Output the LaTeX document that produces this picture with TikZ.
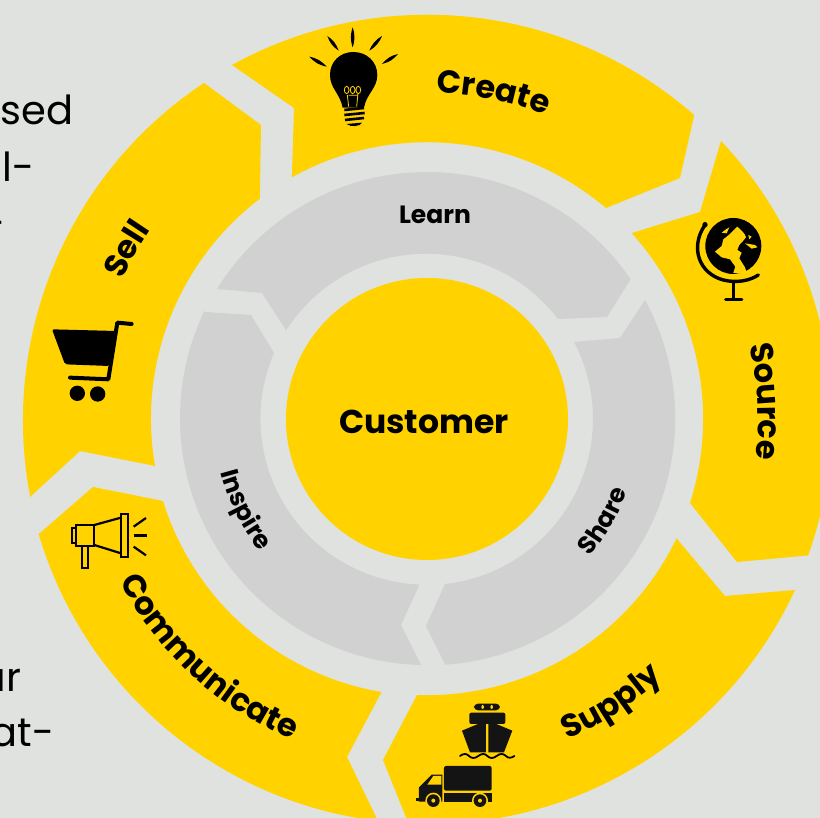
\documentclass[tikz,border=0pt]{standalone}
\usepackage{fontspec}
\setmainfont{Poppins}
\usetikzlibrary{decorations.text}
\definecolor{bgc}{HTML}{DFE2DE}
\definecolor{yel}{HTML}{FFD200}
\definecolor{gry}{HTML}{D1D1D1}
\tikzset{x=1pt,y=1pt,
 yseg/.style={fill=yel},gseg/.style={fill=gry},
 curved/.style={decorate,decoration={text along path,text align=center,text={#1}}},
 sideline/.style={anchor=base east,font=\fontsize{40}{40}\selectfont,text=black}}
\newcommand{\lens}[3][18]{\fill #2 to[bend left=#1] #3 to[bend left=#1] #2;}
\begin{document}
\begin{tikzpicture}[x=1pt,y=1pt]
\useasboundingbox (-427,-399) rectangle (393,419);
\fill[bgc] (-427,-399) rectangle (393,419);
\clip (-427,-399) rectangle (393,419);
% left clipped text
\node[sideline] (t1) at (77-427,419-125) {sed};
\node[sideline] (t2) at (38-427,419-182) {ul-};
\node[sideline] (t3) at (9-427,419-238) {-};
\node[sideline] (t4) at (25-427,419-692) {ur};
\node[sideline] (t5) at (58-427,419-747) {at-};
% yellow ring
\fill[yseg] (232-427,419-65) arc[start angle={atan2(354,-195)},end angle={atan2(306,268)},radius=405]
 -- (680-427,419-178) -- (606-427,419-208) arc[start angle={atan2(211,179)},end angle={atan2(242,-135)},radius=277] -- (294-427,419-108) -- cycle;
\fill[yseg] (721-427,419-141) arc[start angle={atan2(278,294)},end angle={atan2(-136,381)},radius=405]
 -- (737-427,419-562) -- (690-427,419-503) arc[start angle={atan2(-84,263)},end angle={atan2(186,206)},radius=277] -- (700-427,419-212) -- cycle;
\fill[yseg] (677-427,419-539) -- (725-427,419-596) -- (795-427,419-590) arc[start angle={atan2(-171,368)},end angle={atan2(-403,-19)},radius=405]
 -- (383-427,419-760) -- (417-427,419-695) arc[start angle={atan2(-276,-10)},end angle={atan2(-120,250)},radius=277] -- cycle;
\fill[yseg] (40-427,419-533) -- (93-427,419-487) -- (163-427,419-501) arc[start angle={atan2(-82,-264)},end angle={atan2(-273,-46)},radius=277]
 -- (347-427,419-757) -- (378-427,419-821) arc[start angle={atan2(-402,-49)},end angle={atan2(-114,-387)},radius=405] -- cycle;
\fill[yseg] (30-427,419-497) -- (80-427,419-451) -- (155-427,419-466) arc[start angle={360+atan2(-47,-272)},end angle={atan2(220,-168)},radius=277]
 -- (261-427,419-125) -- (204-427,419-83) arc[start angle={atan2(336,-223)},end angle={360+atan2(-78,-397)},radius=405] -- cycle;
% grey ring
\fill[gseg] (217-427,419-289) arc[start angle={atan2(130,-210)},end angle={atan2(140,204)},radius=247]
 -- (607-427,419-317) -- (558-427,419-319) arc[start angle={atan2(100,131)},end angle={atan2(90,-141)},radius=166] -- (262-427,419-293) -- cycle;
\fill[gseg] (645-427,419-300) arc[start angle={atan2(119,218)},end angle={atan2(-246,17)},radius=247]
 -- (426-427,419-626) -- (445-427,419-584) arc[start angle={atan2(-165,18)},end angle={atan2(77,147)},radius=166] -- (620-427,419-338) -- cycle;
\fill[gseg] (205-427,419-312) -- (251-427,419-315) -- (274-427,419-353) arc[start angle={atan2(66,-153)},end angle={360+atan2(-166,-7)},radius=166]
 -- (401-427,419-625) -- (421-427,419-665) arc[start angle={atan2(-246,-6)},end angle={atan2(107,-222)-360},radius=247] -- cycle;
% centre
\node[circle,fill=yel,minimum size=282pt,inner sep=0pt] (c) at (0,0) {};
\node[font=\fontsize{33}{33}\selectfont\bfseries] (ct) at (-3,-3) {Customer};
\node[font=\fontsize{25}{25}\selectfont\bfseries] (ln) at (435-427,419-215) {Learn};
% curved labels
\path[curved={|\fontsize{32}{32}\selectfont\bfseries|Create}] (99.5:326) arc[start angle=99.5,end angle=57.5,radius=326];
\path[curved={|\fontsize{32}{32}\selectfont\bfseries|Source}] (28:331) arc[start angle=28,end angle=-22,radius=331];
\path[curved={|\fontsize{32}{32}\selectfont\bfseries|Supply}] (-80:350) arc[start angle=-80,end angle=-34,radius=350];
\path[curved={|\fontsize{32}{32}\selectfont\bfseries|Communicate}] (-167:348) arc[start angle=-167,end angle=-98,radius=348];
\path[curved={|\fontsize{32}{32}\selectfont\bfseries|Sell}] (170:335) arc[start angle=170,end angle=131,radius=335];
\path[curved={|\fontsize{25}{25}\selectfont\bfseries|Share}] (-60:213) arc[start angle=-60,end angle=0,radius=213];
\path[curved={|\fontsize{25}{25}\selectfont\bfseries|Inspire}] (-181:213) arc[start angle=-181,end angle=-126,radius=213];
% ---- icons, drawn in pixel coordinates
\begin{scope}[shift={(-427,419)},yscale=-1]
 % bulb
 \begin{scope}[shift={(290,10)},scale=0.3333]
  \fill (190,126) .. controls (150,126) and (120,155) .. (120,195) .. controls (120,235) and (150,250) .. (158,293)
     -- (222,293) .. controls (230,250) and (262,235) .. (262,195) .. controls (262,155) and (230,126) .. (190,126) -- cycle;
  \lens{(188,52)}{(188,112)}
  \lens{(112,78)}{(146,122)}
  \lens{(276,78)}{(238,122)}
  \lens{(58,140)}{(110,170)}
  \lens{(324,132)}{(276,162)}
  \draw[black,line width=2.6pt] (163,300) -- (222,294) (163,315) -- (224,309) (165,330) -- (222,324);
  \fill (170,342) -- (216,338) .. controls (212,350) and (180,352) .. (170,342) -- cycle;
  \draw[yel,line width=0.8pt] (176,290) -- (172,255) (200,290) -- (204,250) (176,256) -- (204,256)
    (170,240) ellipse [x radius=7,y radius=11] (188,240) ellipse [x radius=7,y radius=11] (205,240) ellipse [x radius=7,y radius=11];
 \end{scope}
 % globe
 \begin{scope}[shift={(680,210)},scale=0.3333]
  \fill (160,108) circle[radius=84];
  \fill[yel] (172,50) .. controls (185,62) and (195,70) .. (198,82) -- (190,92) -- (178,105) -- (172,120) -- (185,128) -- (178,145) -- (195,172) -- (200,187) .. controls (185,192) and (170,192) .. (160,188) -- (166,170) -- (150,148) -- (125,142) -- (105,125) -- (125,108) -- (130,88) -- (150,72) -- cycle;
  \fill[yel] (125,68) -- (138,58) -- (148,52) -- (140,70) -- cycle;
  \fill[yel] (195,100) -- (225,105) -- (232,112) -- (215,116) -- cycle;
  \fill[yel] (205,75) -- (215,80) -- (208,88) -- cycle;
  \draw[line width=3.4pt,line cap=round] (75,45) .. controls (30,110) and (55,190) .. (130,210) .. controls (170,220) and (210,212) .. (235,195);
  \fill (75,44) circle[radius=8];
  \draw[line width=3pt] (160,212) -- (160,268);
  \draw[line width=3pt,line cap=round] (137,268) -- (186,268);
 \end{scope}
 % ship and truck
 \begin{scope}[shift={(400,690)},scale=0.3333,fill=black!92]
  \fill[rounded corners=4pt] (222,41) rectangle (300,61);
  \fill[yel] (248,51) ellipse[x radius=4,y radius=6] (275,51) ellipse[x radius=4,y radius=6];
  \fill[rounded corners=2pt] (208,68) rectangle (316,102);
  \draw[yel,line width=1pt] (205,103) -- (319,103);
  \fill (186,122) -- (258,92) -- (258,187) -- (210,187) -- cycle;
  \fill (337,122) -- (265,92) -- (265,187) -- (312,187) -- cycle;
  \draw[line width=1.8pt,line cap=round] (180,198) .. controls (190,190) and (200,190) .. (207,198) .. controls (215,206) and (225,206) .. (235,198) .. controls (245,190) and (255,190) .. (262,198) .. controls (270,206) and (280,206) .. (290,198) .. controls (300,190) and (310,190) .. (318,198) .. controls (325,206) and (335,204) .. (343,198);
  \fill[rounded corners=2pt] (132,228) rectangle (275,302);
  \fill (132,308) rectangle (275,335);
  \fill (57,292) -- (95,254) -- (127,254) -- (127,335) -- (57,335) -- cycle;
  \fill (48,325) rectangle (60,333);
  \fill[yel] (82,284) -- (100,258) -- (124,258) -- (124,284) -- cycle;
  \foreach \wx/\wn in {100/a,240/b}{
   \fill[yel] (\wx,332) circle[radius=24];
   \fill (\wx,332) circle[radius=19];
   \fill[yel] (\wx,332) circle[radius=6];
  }
 \end{scope}
 % cart
 \begin{scope}[shift={(40,310)},scale=0.3333]
  \fill[rounded corners=2pt] (36,58) -- (228,63) -- (208,168) -- (75,163) -- cycle;
  \draw[line width=4pt,line cap=round,line join=round] (275,42) -- (232,38) -- (205,208) -- (90,203);
  \fill (112,250) circle[radius=23] (173,252) circle[radius=23];
 \end{scope}
 % megaphone
 \begin{scope}[shift={(55,500)},scale=0.3333,line width=2.2pt]
  \draw (62,85) -- (52,85) -- (52,130) -- (62,130);
  \draw (62,75) rectangle (118,138);
  \draw (118,75) -- (198,53) (118,135) -- (198,160);
  \draw (198,42) rectangle (218,172);
  \draw (80,138) rectangle (100,205);
  \draw (236,80) -- (273,54) (236,140) -- (273,166);
  \draw[line width=3pt] (238,108) -- (275,108);
 \end{scope}
\end{scope}
\end{tikzpicture}
\end{document}
